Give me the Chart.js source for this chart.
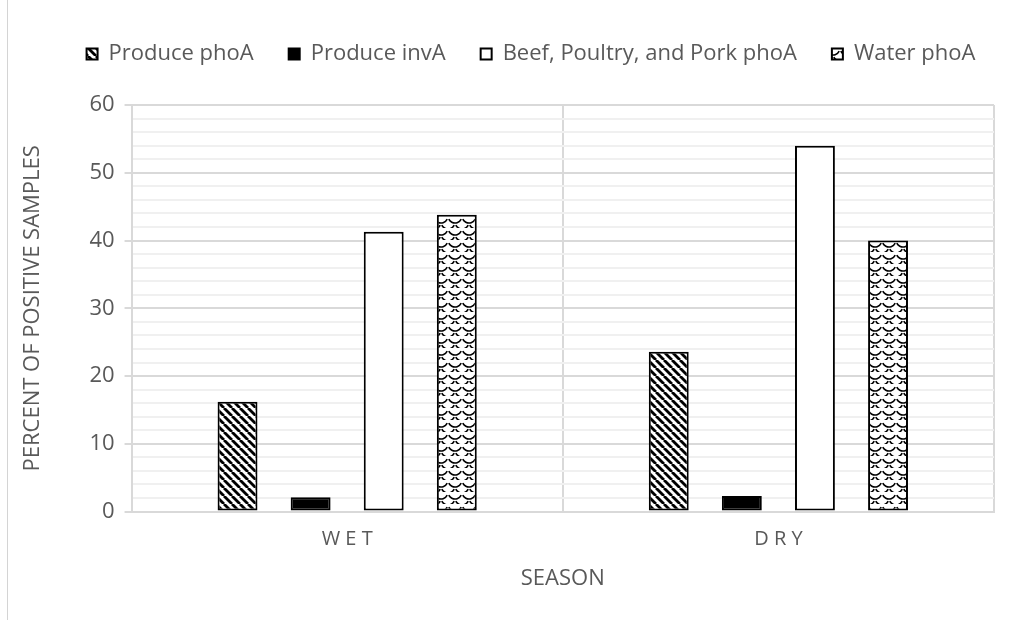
<!DOCTYPE html>
<html>
<head>
<meta charset="utf-8">
<script src="https://cdn.jsdelivr.net/npm/chart.js@4.4.1/dist/chart.umd.min.js"></script>
<style>
  html, body { margin: 0; padding: 0; background: #fff; }
  #wrap { position: relative; width: 1010px; height: 620px; }
  #frame { position: absolute; left: 7px; top: 0; width: 1px; height: 620px; background: #d4d4d4; }
</style>
</head>
<body>
<div id="wrap">
  <canvas id="chart-canvas" width="1010" height="620"></canvas>
  <div id="frame"></div>
</div>
<script>
const chart = document.getElementById("chart-canvas");

// data
const seasons = ["WET", "DRY"];
const producePhoA = [16.2, 23.6];
const produceInvA = [2.1, 2.3];
const meatPhoA = [41.3, 54.0];
const waterPhoA = [43.8, 40.0];
const yTicks = [0, 10, 20, 30, 40, 50, 60];
// ======================

const FONT = "Open Sans";
const GREY = "#595959";

// hatch patterns
function stripes() {
  let c = document.createElement("canvas");
  c.width = 8; c.height = 8;
  let g = c.getContext("2d");
  g.fillStyle = "#fff";
  g.fillRect(0, 0, 8, 8);
  g.strokeStyle = "#000";
  g.lineWidth = 2.8;
  for (let o = -16; o <= 16; o += 8) {
    g.beginPath();
    g.moveTo(o, 0);
    g.lineTo(o + 8, 8);
    g.stroke();
  }
  return g.createPattern(c, "repeat");
}

function shingles() {
  let w = 14, h = 12;
  let c = document.createElement("canvas");
  c.width = w; c.height = h;
  let g = c.getContext("2d");
  g.fillStyle = "#fff";
  g.fillRect(0, 0, w, h);
  g.strokeStyle = "#000";
  g.lineWidth = 1.6;
  const arc = (x, y) => {
    g.beginPath();
    g.arc(x, y, w / 2, 0.15 * Math.PI, 0.85 * Math.PI);
    g.stroke();
  };
  arc(w / 2, 0);
  arc(w / 2, h);
  arc(0, h / 2);
  arc(w, h / 2);
  return g.createPattern(c, "repeat");
}

function bar(label, data, fill) {
  return {
    label: label,
    data: data,
    backgroundColor: fill,
    borderColor: "#000",
    borderWidth: 2,
    borderSkipped: false,
    categoryPercentage: 0.678,
    barPercentage: 0.546
  };
}

const chartData = {
  labels: seasons,
  datasets: [
    bar("Produce phoA", producePhoA, stripes()),
    bar("Produce invA", produceInvA, "#000"),
    bar("Beef, Poultry, and Pork phoA", meatPhoA, "#fff"),
    bar("Water phoA", waterPhoA, shingles())
  ]
};

// legend sits higher and a bit right of where Chart.js puts it
const moveLegend = {
  id: "moveLegend",
  afterLayout(c) {
    const l = c.legend;
    l.top -= 30; l.bottom -= 30;
    l.left += 26; l.right += 26;
  }
};

const options = {
  responsive: false,
  animation: false,
  layout: { padding: { left: 16, right: 16, top: 38, bottom: 24 } },
  plugins: {
    tooltip: { enabled: false },
    legend: {
      position: "top",
      labels: {
        color: GREY,
        font: { family: FONT, size: 22 },
        boxWidth: 11,
        boxHeight: 11,
        padding: 35
      }
    }
  },
  scales: {
    x: {
      offset: true,
      grid: { color: "#d9d9d9", lineWidth: 2, drawTicks: false, offset: true },
      border: { color: "#d9d9d9", width: 2 },
      ticks: {
        color: GREY,
        padding: 16,
        font: { family: FONT, size: 20 },
        callback: function (v) { return this.getLabelForValue(v).split("").join(" "); }
      },
      title: {
        display: true,
        text: "SEASON",
        color: GREY,
        font: { family: FONT, size: 22 },
        padding: { top: -2 }
      }
    },
    y: {
      min: 0,
      max: 60,
      ticks: {
        stepSize: 2,
        autoSkip: false,
        color: GREY,
        padding: 10,
        font: { family: FONT, size: 22 },
        callback: (v) => yTicks.includes(v) ? v : ""
      },
      grid: {
        lineWidth: 2,
        tickLength: 7,
        color: (c) => yTicks.includes(c.tick.value) ? "#d9d9d9" : "#f0f0f0",
        tickColor: (c) => yTicks.includes(c.tick.value) ? "#d9d9d9" : "rgba(0,0,0,0)"
      },
      border: { color: "#d9d9d9", width: 2 },
      title: {
        display: true,
        text: "PERCENT OF POSITIVE SAMPLES",
        color: GREY,
        font: { family: FONT, size: 22 },
        padding: { top: 4, bottom: 33 }
      }
    }
  }
};

new Chart(chart, { type: "bar", data: chartData, options: options, plugins: [moveLegend] });
</script>
</body>
</html>
